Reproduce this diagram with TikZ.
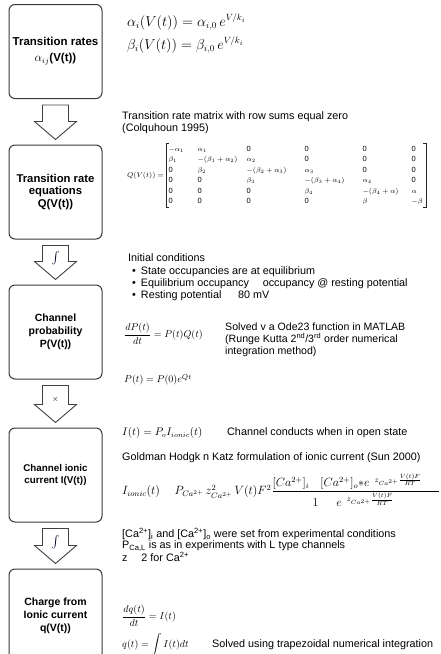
\documentclass[tikz,border=0pt]{standalone}
\usepackage[no-math]{fontspec}
\setmainfont{Liberation Sans}
\usepackage{amsmath}
\usetikzlibrary{calc}
\newcommand\qc[2]{\makebox[#1pt][l]{$#2$}}
\newcommand\qz[1]{\makebox[#1pt][l]{\text{0}}}
\tikzset{
  stagebox/.style={draw=black!78, line width=1pt, rounded corners=6pt, minimum width=93pt,
    minimum height=94pt, align=center, inner sep=0pt,
    font=\fontsize{10.5}{13}\selectfont\bfseries},
  note/.style={anchor=west, inner sep=0pt, align=left, font=\fontsize{10.8}{12.2}\selectfont},
  eqn/.style={anchor=west, inner sep=0pt},
  blockarrow/.style={draw=black!75, line width=0.9pt, fill=white, line join=miter},
  symb/.style={inner sep=0pt, text=black!85!blue},
  qbracket/.style={draw=black!85, line width=0.8pt},
}
\newcommand\stagearrow[4]{%
  \draw[blockarrow] ($(#1.south)+(-13,6)$) -- ($(#1.south)+(13,6)$)
    -- ($(#2.north)+(13,-23)$) -- ($(#2.north)+(21,-23)$) -- ($(#2.north)+(0,-5)$)
    -- ($(#2.north)+(-21,-23)$) -- ($(#2.north)+(-13,-23)$) -- cycle;
  \node[symb] (#3) at ($(#1.south)!0.42!(#2.north)$) {#4};
}
\begin{document}
\begin{tikzpicture}[x=1pt,y=-1pt]
\useasboundingbox (0,0) rectangle (440,654);
% stage boxes
\node[stagebox, font=\fontsize{11.5}{13}\selectfont\bfseries] (b1) at (55.5,51.5) {Transition rates\\[3pt]$\alpha_{ij}$(V(t))};
\node[stagebox, font=\fontsize{11.3}{12.5}\selectfont\bfseries] (b2) at (55.5,192) {Transition rate\\equations\\Q(V(t))};
\node[stagebox] (b3) at (55.5,332) {Channel\\probability\\P(V(t))};
\node[stagebox, font=\fontsize{9.8}{12}\selectfont\bfseries] (b4) at (55.5,475) {Channel ionic\\current I(V(t))};
\node[stagebox] (b5) at (55.5,616) {Charge from\\Ionic current\\q(V(t))};
% arrows
\stagearrow{b1}{b2}{s1}{}
\stagearrow{b2}{b3}{s2}{\fontsize{12}{12}\selectfont$\int$}
\stagearrow{b3}{b4}{s3}{\fontsize{8}{8}\selectfont$\times$}
\stagearrow{b4}{b5}{s4}{\fontsize{12}{12}\selectfont$\int$}
% stage 1
\node[eqn] (ea) at (127,22) {\fontsize{13.5}{15}\selectfont$\alpha_i(V(t))=\alpha_{i,0}\,e^{V/k_i}$};
\node[eqn] (eb) at (127,45) {\fontsize{13.5}{15}\selectfont$\beta_i(V(t))=\beta_{i,0}\,e^{V/k_i}$};
% stage 2
\node[note] (t2) at (122,123) {Transition rate matrix with row sums equal zero\\(Colquhoun 1995)};
\node[anchor=east, inner sep=0pt] (ql) at (164,175.5) {\fontsize{7}{8}\selectfont$Q(V(t))=$};
\node[eqn, inner xsep=2.5pt, inner ysep=0.3pt] (qm) at (166,175.5) {\fontsize{7.5}{10.5}\selectfont$\begin{array}{@{}l@{}l@{}l@{}l@{}l@{}l@{}}
\qc{29}{-\alpha_1} & \qc{49}{\alpha_1} & \qz{58} & \qz{58} & \qz{49} & \qz{12}\\
\qc{29}{\beta_1} & \qc{49}{-(\beta_1+\alpha_2)} & \qc{58}{\alpha_2} & \qz{58} & \qz{49} & \qz{12}\\
\qz{29} & \qc{49}{\beta_2} & \qc{58}{-(\beta_2+\alpha_3)} & \qc{58}{\alpha_3} & \qz{49} & \qz{12}\\
\qz{29} & \qz{49} & \qc{58}{\beta_3} & \qc{58}{-(\beta_3+\alpha_4)} & \qc{49}{\alpha_4} & \qz{12}\\
\qz{29} & \qz{49} & \qz{58} & \qc{58}{\beta_4} & \qc{49}{-(\beta_4+\alpha)} & \qc{12}{\alpha}\\
\qz{29} & \qz{49} & \qz{58} & \qz{58} & \qc{49}{\beta} & \qc{12}{-\beta}
\end{array}$};
\draw[qbracket] ($(qm.north west)+(3,0)$) -- (qm.north west) -- (qm.south west) -- ($(qm.south west)+(3,0)$);
\draw[qbracket] ($(qm.north east)+(-3,0)$) -- (qm.north east) -- (qm.south east) -- ($(qm.south east)+(-3,0)$);
% stage 3
\node[note] (t3) at (128,277.5) {Initial conditions\\
\hspace*{4pt}\textbullet\hspace{5pt}State occupancies are at equilibrium\\
\hspace*{4pt}\textbullet\hspace{5pt}Equilibrium occupancy \quad occupancy @ resting potential\\
\hspace*{4pt}\textbullet\hspace{5pt}Resting potential \quad\ 80 mV};
\node[eqn] (ep) at (124,334) {\fontsize{10}{12}\selectfont$\displaystyle\frac{dP(t)}{dt}=P(t)Q(t)$};
\node[note, font=\fontsize{10.6}{12}\selectfont] (t3b) at (225,340) {Solved v a Ode23 function in MATLAB\\(Runge Kutta 2\textsuperscript{nd}/3\textsuperscript{rd} order numerical\\integration method)};
\node[eqn] (ep0) at (124,380) {\fontsize{10}{12}\selectfont$P(t)=P(0)e^{Qt}$};
% stage 4
\node[eqn] (ei) at (122,433) {\fontsize{10.5}{12}\selectfont$I(t)=P_oI_{ionic}(t)$};
\node[note] (t4a) at (227,433) {Channel conducts when in open state};
\node[note] (t4b) at (122,458) {Goldman Hodgk n Katz formulation of ionic current (Sun 2000)};
\node[eqn] (ghk) at (122,490) {\fontsize{11.5}{13}\selectfont$I_{ionic}(t)\quad\ P_{Ca^{2+}}\,z^2_{Ca^{2+}}\,V(t)F^2\dfrac{\makebox[166pt][l]{$[Ca^{2+}]_i\hspace{11pt}[Ca^{2+}]_o{*}e^{\hspace{5pt}z_{Ca^{2+}}\frac{V(t)F}{RT}}$}}{\makebox[166pt][l]{\hspace{40pt}$1\hspace{18pt}e^{\hspace{5pt}z_{Ca^{2+}}\frac{V(t)F}{RT}}$}}$};
\node[note, font=\fontsize{10.8}{11.2}\selectfont] (t4c) at (122,545) {[Ca\textsuperscript{2+}]\textsubscript{i} and [Ca\textsuperscript{2+}]\textsubscript{o} were set from experimental conditions\\
P\textsubscript{Ca,L} is as in experiments with L type channels\\
z \quad 2 for Ca\textsuperscript{2+}};
% stage 5
\node[eqn] (eq) at (122,616) {\fontsize{10}{12}\selectfont$\displaystyle\frac{dq(t)}{dt}=I(t)$};
\node[eqn] (eq2) at (122,645) {\fontsize{10}{12}\selectfont$\displaystyle q(t)=\int I(t)dt$};
\node[note] (t5) at (212,645) {Solved using trapezoidal numerical integration};
\end{tikzpicture}
\end{document}
